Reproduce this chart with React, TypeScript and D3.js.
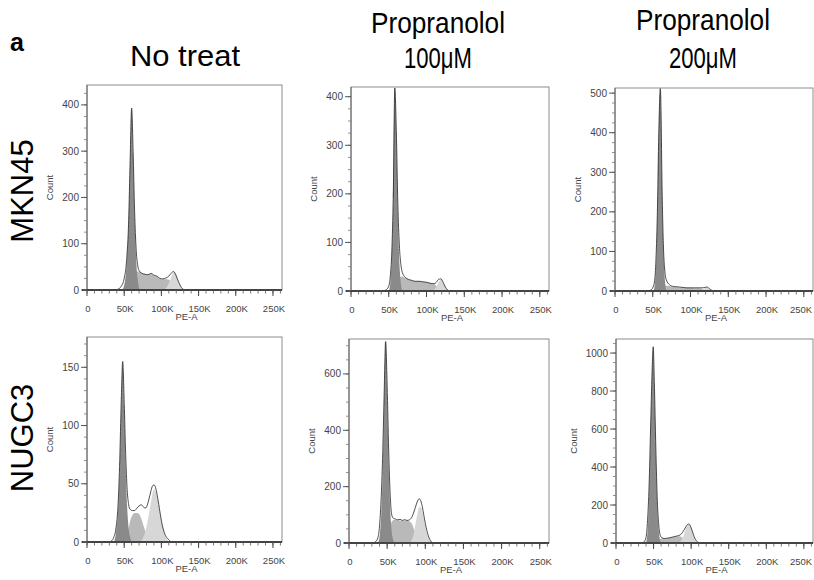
import React, { useEffect, useRef } from "react";
import * as d3 from "d3";

// headings
const columnTitles = [["No treat"], ["Propranolol", "100μM"], ["Propranolol", "200μM"]];
const rowLabels = ["MKN45", "NUGC3"];
const panelLetter = "a";

// x axis (PE-A, in K)
const xTicks = [0, 50, 100, 150, 200, 250];
const xTickLabels = ["0", "50K", "100K", "150K", "200K", "250K"];
const xMinorStep = 10;
const xMax = 262.144;

// [PE-A (K), count]
// MKN45, no treat
const mknNoTreatOutline = [[38,0],[42,2],[46,8],[50,25],[53,60],[56,150],[58,280],[60,393],[62,300],[64,170],[66,90],[68,55],[70,42],[74,36],[78,34],[82,33],[86,36],[90,32],[94,30],[98,25],[102,24],[106,26],[110,30],[113,36],[116,40],[119,34],[122,22],[126,8],[130,1],[134,0]];
const mknNoTreatG1 = [[47,0],[50,10],[53,50],[56,150],[58,280],[60,390],[62,290],[64,160],[66,70],[68,25],[70,5],[72,0]];
const mknNoTreatS = [[55,0],[58,20],[62,35],[66,40],[70,40],[74,36],[78,34],[82,33],[86,35],[90,31],[94,29],[98,24],[102,23],[106,24],[110,22],[114,15],[118,6],[121,0]];
const mknNoTreatG2 = [[104,0],[108,8],[112,22],[116,38],[118,40],[120,33],[123,20],[126,8],[129,2],[132,0]];

// MKN45, propranolol 100
const mkn100Outline = [[42,0],[46,2],[50,10],[52,30],[54,80],[56,200],[58,418],[60,330],[62,180],[64,95],[66,55],[68,38],[72,28],[76,24],[80,22],[85,20],[90,20],[95,19],[100,18],[105,16],[110,15],[113,18],[116,24],[119,25],[122,18],[125,8],[128,2],[131,0]];
const mkn100G1 = [[50,0],[52,15],[54,70],[56,190],[58,415],[60,320],[62,160],[64,60],[66,15],[68,0]];
const mkn100S = [[56,0],[60,20],[64,28],[68,30],[72,27],[76,24],[80,22],[85,20],[90,20],[95,19],[100,18],[105,16],[110,14],[114,9],[118,3],[121,0]];
const mkn100G2 = [[108,0],[112,6],[115,15],[118,22],[120,23],[122,17],[125,8],[128,2],[130,0]];

// MKN45, propranolol 200
const mkn200Outline = [[44,0],[48,3],[52,20],[54,70],[56,190],[58,400],[60,512],[61,450],[62,300],[64,120],[66,50],[68,28],[72,16],[76,12],[80,11],[85,10],[90,9],[95,8],[100,8],[105,8],[110,8],[115,8],[119,9],[122,10],[125,6],[128,2],[131,0]];
const mkn200G1 = [[51,0],[53,20],[55,100],[57,280],[59,480],[60,510],[61,430],[62,290],[64,110],[66,30],[68,0]];
const mkn200S = [[58,0],[62,10],[66,14],[70,13],[76,11],[80,10],[85,9],[90,8],[95,8],[100,8],[105,7],[110,7],[115,6],[119,3],[122,0]];
const mkn200G2 = [[112,0],[116,4],[120,8],[122,9],[125,5],[128,1],[130,0]];

// NUGC3, no treat
const nugNoTreatOutline = [[30,0],[33,1],[36,4],[39,12],[42,35],[44,70],[46,120],[48,155],[50,120],[52,75],[54,45],[56,32],[58,28],[61,27],[64,27],[67,29],[70,31],[73,32],[76,30],[78,29],[80,30],[83,36],[86,44],[88,48],[90,49],[92,47],[95,38],[98,26],[101,15],[104,8],[107,4],[110,2],[113,0]];
const nugNoTreatG1 = [[36,0],[39,8],[42,30],[44,65],[46,115],[48,153],[50,115],[52,65],[54,30],[56,12],[58,4],[60,0]];
const nugNoTreatS = [[52,0],[55,8],[58,18],[61,23],[64,25],[67,25],[70,24],[73,20],[76,14],[79,8],[82,3],[85,0]];
const nugNoTreatG2 = [[72,0],[75,3],[78,8],[81,16],[84,27],[87,38],[89,44],[91,45],[93,42],[96,33],[99,22],[102,13],[105,6],[108,2],[111,0]];

// NUGC3, propranolol 100
const nug100Outline = [[32,0],[35,5],[38,20],[40,60],[42,150],[44,300],[46,520],[48,715],[50,560],[52,330],[54,170],[56,100],[58,88],[61,85],[64,82],[67,84],[70,80],[73,83],[76,80],[79,82],[82,90],[85,110],[88,135],[90,150],[92,157],[94,150],[96,130],[98,100],[100,70],[102,45],[104,25],[106,12],[108,4],[111,0]];
const nug100G1 = [[38,0],[40,20],[42,90],[44,240],[46,480],[48,710],[50,520],[52,280],[54,120],[56,40],[58,10],[60,0]];
const nug100S = [[50,0],[53,40],[56,75],[59,82],[62,82],[66,80],[70,80],[74,80],[78,78],[82,70],[85,50],[88,25],[90,10],[92,0]];
const nug100G2 = [[80,0],[83,15],[85,35],[87,65],[89,95],[91,120],[93,129],[95,122],[97,100],[99,72],[101,45],[103,25],[105,12],[107,4],[109,0]];

// NUGC3, propranolol 200
const nug200Outline = [[34,0],[37,5],[40,30],[42,120],[44,300],[46,600],[48,900],[49.5,1033],[51,850],[53,500],[55,220],[57,90],[59,40],[61,28],[64,24],[68,25],[72,28],[76,32],[80,36],[84,40],[87,48],[90,65],[93,85],[95,97],[97,100],[99,90],[101,68],[103,45],[105,25],[107,12],[109,4],[112,0]];
const nug200G1 = [[40,0],[42,60],[44,250],[46,560],[48,880],[49.5,1025],[51,830],[53,470],[55,190],[57,60],[59,10],[61,0]];
const nug200S = [[54,0],[57,15],[60,24],[64,23],[68,24],[72,27],[76,30],[80,34],[84,36],[87,33],[90,20],[93,6],[95,0]];
const nug200G2 = [[84,0],[87,15],[90,40],[93,75],[95,92],[97,97],[99,88],[101,66],[103,42],[105,22],[107,9],[109,2],[111,0]];

// y axes
const yMaxes = [443, 420, 513, 176, 724, 1074];
const yTickSets = [
  [0, 100, 200, 300, 400],
  [0, 100, 200, 300, 400],
  [0, 100, 200, 300, 400, 500],
  [0, 50, 100, 150],
  [0, 200, 400, 600],
  [0, 200, 400, 600, 800, 1000]
];
const yMinorSteps = [25, 25, 25, 10, 50, 50];

// plot boxes: [left, right, top, bottom]
const boxes = [
  [87, 282, 85, 290], [351, 549, 87, 291], [615, 813, 88, 291],
  [87, 282, 337, 542], [349, 549, 339, 543], [616, 813, 339, 543]
];

const panels = [
  { outline: mknNoTreatOutline, g1: mknNoTreatG1, s: mknNoTreatS, g2: mknNoTreatG2 },
  { outline: mkn100Outline, g1: mkn100G1, s: mkn100S, g2: mkn100G2 },
  { outline: mkn200Outline, g1: mkn200G1, s: mkn200S, g2: mkn200G2 },
  { outline: nugNoTreatOutline, g1: nugNoTreatG1, s: nugNoTreatS, g2: nugNoTreatG2 },
  { outline: nug100Outline, g1: nug100G1, s: nug100S, g2: nug100G2 },
  { outline: nug200Outline, g1: nug200G1, s: nug200S, g2: nug200G2 }
];

const FONT = "Liberation Sans, Arial, Helvetica, sans-serif";
const G1_COLOR = "#8a8a8a";
const S_COLOR = "#b9b9b9";
const G2_COLOR = "#d7d7d7";

// title widths in the figure (condensed face)
const titleWidths: Record<string, number> = { "No treat": 110, "Propranolol": 134, "100μM": 68, "200μM": 68 };

export default function App() {
  const ref = useRef<SVGSVGElement>(null);

  useEffect(() => {
    const svg = d3.select(ref.current);
    svg.selectAll("*").remove();

    // panel letter + column titles
    svg.append("text")
      .attr("x", 10).attr("y", 51)
      .attr("font-family", FONT).attr("font-size", 25).attr("font-weight", "bold")
      .text(panelLetter);

    const titleCenters = [185, 438, 703];
    columnTitles.forEach((lines, i) => {
      const baselines = lines.length === 1 ? [66] : [i === 2 ? 30 : 33, 68];
      lines.forEach((line, j) => {
        svg.append("text")
          .attr("x", titleCenters[i]).attr("y", baselines[j])
          .attr("text-anchor", "middle")
          .attr("font-family", FONT).attr("font-size", 30)
          .attr("textLength", titleWidths[line])
          .attr("lengthAdjust", "spacingAndGlyphs")
          .text(line);
      });
    });

    const rowCenters = [191, 438];
    rowLabels.forEach((label, i) => {
      svg.append("text")
        .attr("transform", `translate(33,${rowCenters[i]}) rotate(-90)`)
        .attr("text-anchor", "middle")
        .attr("font-family", FONT).attr("font-size", 31)
        .text(label);
    });

    panels.forEach((p, i) => {
      const [left, right, top, bottom] = boxes[i];
      const x = d3.scaleLinear().domain([0, xMax]).range([left, right]);
      const y = d3.scaleLinear().domain([0, yMaxes[i]]).range([bottom, top]);
      const g = svg.append("g");

      const clipId = "clip" + i;
      g.append("clipPath").attr("id", clipId)
        .append("rect")
        .attr("x", left).attr("y", top)
        .attr("width", right - left).attr("height", bottom - top);

      const area = d3.area<number[]>()
        .x(d => x(d[0]))
        .y0(y(0))
        .y1(d => y(d[1]))
        .curve(d3.curveMonotoneX);
      const line = d3.line<number[]>()
        .x(d => x(d[0]))
        .y(d => y(d[1]))
        .curve(d3.curveMonotoneX);

      const plot = g.append("g").attr("clip-path", `url(#${clipId})`);
      plot.append("path").attr("d", area(p.s)).attr("fill", S_COLOR);
      plot.append("path").attr("d", area(p.g2)).attr("fill", G2_COLOR);
      plot.append("path").attr("d", area(p.g1)).attr("fill", G1_COLOR);
      plot.append("path").attr("d", line(p.outline))
        .attr("fill", "none").attr("stroke", "#222").attr("stroke-width", 0.8);

      // frame
      g.append("rect")
        .attr("x", left).attr("y", top)
        .attr("width", right - left).attr("height", bottom - top)
        .attr("fill", "none").attr("stroke", "#8c8c8c").attr("stroke-width", 1);
      g.append("line")
        .attr("x1", left).attr("x2", left).attr("y1", top).attr("y2", bottom)
        .attr("stroke", "#666").attr("stroke-width", 1);
      g.append("line")
        .attr("x1", left - 5).attr("x2", right).attr("y1", bottom).attr("y2", bottom)
        .attr("stroke", "#444").attr("stroke-width", 2);

      // y ticks
      const yMinor = d3.range(0, yMaxes[i] + 0.001, yMinorSteps[i]);
      g.selectAll(".ymin").data(yMinor).enter().append("line")
        .attr("x1", left - 3).attr("x2", left)
        .attr("y1", d => y(d)).attr("y2", d => y(d))
        .attr("stroke", "#777").attr("stroke-width", 0.8);
      const yTicks = yTickSets[i];
      g.selectAll(".ymaj").data(yTicks).enter().append("line")
        .attr("x1", left - 6).attr("x2", left)
        .attr("y1", d => y(d)).attr("y2", d => y(d))
        .attr("stroke", "#555").attr("stroke-width", 1);
      g.selectAll(".ylab").data(yTicks).enter().append("text")
        .attr("x", left - 8).attr("y", d => y(d)).attr("dy", "0.35em")
        .attr("text-anchor", "end")
        .attr("font-family", FONT).attr("font-size", 10).attr("fill", "#444")
        .text(d => String(d));

      const maxLen = d3.max(yTicks, d => String(d).length) || 1;
      const countX = left - 8 - maxLen * 5.6 - 9;
      g.append("text")
        .attr("transform", `translate(${countX},${(top + bottom) / 2}) rotate(-90)`)
        .attr("text-anchor", "middle")
        .attr("font-family", FONT).attr("font-size", 9.5).attr("fill", "#444")
        .text("Count");

      // x ticks
      const xMinor = d3.range(0, xMax, xMinorStep);
      g.selectAll(".xmin").data(xMinor).enter().append("line")
        .attr("x1", d => x(d)).attr("x2", d => x(d))
        .attr("y1", bottom).attr("y2", bottom + 3.5)
        .attr("stroke", "#555").attr("stroke-width", 0.8);
      g.selectAll(".xmaj").data(xTicks).enter().append("line")
        .attr("x1", d => x(d)).attr("x2", d => x(d))
        .attr("y1", bottom).attr("y2", bottom + 6)
        .attr("stroke", "#444").attr("stroke-width", 1);
      g.selectAll(".xlab").data(xTicks).enter().append("text")
        .attr("x", d => Math.min(x(d) + 1, 801)).attr("y", bottom + 21.5)
        .attr("text-anchor", "middle")
        .attr("font-family", FONT).attr("font-size", 9.5).attr("fill", "#444")
        .text((d, k) => xTickLabels[k]);
      g.append("text")
        .attr("x", (left + right) / 2 + 2).attr("y", bottom + 30)
        .attr("text-anchor", "middle")
        .attr("font-family", FONT).attr("font-size", 9.5).attr("fill", "#444")
        .text("PE-A");
    });
  }, []);

  return (
    <svg ref={ref} width={814} height={580}
      style={{ position: "absolute", left: 0, top: 0, background: "#fff" }} />
  );
}
